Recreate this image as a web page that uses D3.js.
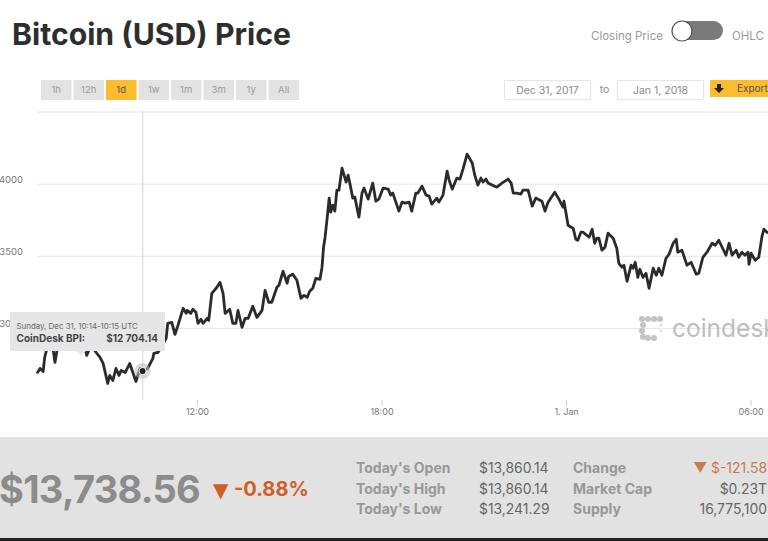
<!DOCTYPE html>
<html>
<head>
<meta charset="utf-8">
<script src="https://cdn.jsdelivr.net/npm/d3@7"></script>
<style>
  body { margin: 0; background: #fff; overflow: hidden; }
  svg { display: block; font-family: Inter, Lato, sans-serif; }
  .domain { display: none; }
</style>
</head>
<body>
<div id="chart"></div>
<script>
const width = 768,
  height = 541;

// minutes since Dec 31 00:00 UTC
const minutes = [408, 414, 420, 423, 429, 439, 443, 447, 457, 468, 480, 492, 501, 505, 513, 525, 531, 537, 546, 550, 556, 562, 568, 572, 580, 589, 601, 609, 614, 624, 634, 636, 644,
  660, 663, 671, 677, 683, 693, 699, 701, 708, 712, 718, 722, 728, 732, 740, 743, 749, 759, 765, 771, 775, 784, 790, 796, 800, 808, 814, 820, 829, 837, 847, 853, 860, 866, 876, 880, 888, 896, 899, 907, 915, 923, 929, 935, 940, 946, 952, 960, 964, 967, 970, 974, 978, 981, 985, 989, 993, 997, 1003, 1011, 1015, 1019, 1024, 1028, 1036, 1042, 1046, 1054, 1063, 1069, 1075, 1083, 1093, 1098, 1102, 1114, 1120, 1126, 1134, 1139, 1147, 1151, 1159, 1167, 1173, 1178, 1188, 1192, 1200, 1208, 1212, 1218, 1227, 1233, 1239, 1247, 1257, 1262, 1268, 1274, 1278, 1284, 1288, 1305, 1315, 1327, 1333, 1337, 1344, 1352, 1356, 1366, 1374, 1381, 1393, 1399, 1405, 1418, 1426, 1434, 1436, 1444, 1450, 1454, 1459, 1463, 1469, 1473, 1485, 1491, 1496, 1500, 1504, 1510, 1516, 1522, 1532, 1539, 1543, 1549, 1553, 1559, 1567, 1571, 1575, 1580, 1584, 1590, 1596, 1602, 1610, 1616, 1621, 1627, 1635, 1641, 1649, 1655, 1658, 1666, 1676, 1684, 1694, 1699, 1707, 1715, 1725, 1731, 1738, 1752, 1758, 1764, 1772, 1777, 1783, 1789, 1795, 1797, 1801, 1809, 1816, 1822, 1826, 1834];
const prices = [12688, 12722, 12701, 12799, 12882, 12868, 12764, 12847, 12917, 12951, 12931, 12903, 12875, 12813, 12882, 12826, 12799, 12757, 12618, 12674, 12639, 12722, 12674, 12708, 12694, 12757, 12632, 12722, 12704, 12722, 12792, 12826, 12833,
  12931, 13035, 13042, 12958, 13021, 13139, 13104, 13125, 13104, 13132, 13111, 13035, 13063, 13035, 13070, 13056, 13243, 13285, 13319, 13243, 13104, 13132, 13035, 13035, 13125, 13007, 13070, 13070, 13153, 13076, 13125, 13264, 13181, 13181, 13285, 13299, 13396, 13313, 13361, 13375, 13333, 13208, 13229, 13215, 13257, 13278, 13347, 13340, 13424, 13563, 13632, 13764, 13903, 13806, 13854, 13813, 13958, 13958, 14111, 14014, 14062, 13993, 13903, 13910, 13771, 13938, 13972, 13896, 14007, 13882, 13896, 13972, 13965, 13924, 13938, 13813, 13875, 13868, 13875, 13813, 13938, 13938, 13986, 13924, 13917, 13861, 13903, 13875, 13924, 14090, 14028, 13965, 14042, 14035, 14104, 14208, 14146, 14062, 13993, 14042, 14014, 14035, 14007, 13979, 14007, 14035, 14007, 13938, 13938, 13931, 13958, 13958, 13847, 13903, 13882, 13813, 13875, 13944, 13896, 13840, 13882, 13715, 13701, 13694, 13618, 13611, 13667, 13667, 13632, 13688, 13590, 13625, 13625, 13542, 13563, 13660, 13625, 13556, 13451, 13424, 13438, 13326, 13438, 13417, 13458, 13354, 13410, 13354, 13382, 13278, 13417, 13368, 13417, 13368, 13486, 13514, 13590, 13618, 13528, 13542, 13438, 13458, 13375, 13382, 13493, 13528, 13590, 13576, 13611, 13507, 13590, 13507, 13542, 13493, 13528, 13507, 13528, 13444, 13521, 13472, 13493, 13632, 13688, 13660];

const gridValues = [13000, 13500, 14000, 14500];
const yTickValues = [13000, 13500, 14000];
const xTickMinutes = [720, 1080, 1440, 1800];
const xTickLabels = ["12:00", "18:00", "1. Jan", "06:00"];
const rangeButtons = ["1h", "12h", "1d", "1w", "1m", "3m", "1y", "All"];
const activeRange = "1d";
const hoverMinute = 614;
const hoverPrice = 12704.14;

const statLabelsA = ["Today's Open", "Today's High", "Today's Low"];
const statValuesA = ["$13,860.14", "$13,860.14", "$13,241.29"];
const statLabelsB = ["Change", "Market Cap", "Supply"];
const statValuesB = ["▼ $-121.58", "$0.23T", "16,775,100"];

const toDate = m => new Date(Date.UTC(2017, 11, 31, 0, m));

const svg = d3.select("#chart").append("svg").attr("width", width).attr("height", height);

const x = d3.scaleUtc().domain([toDate(408), toDate(1834)]).range([37, 768]);
const y = d3.scaleLinear().domain([12500, 14500]).range([400.5, 112]);

// header
svg.append("text").attr("x", 12).attr("y", 45).attr("font-size", 30.2).attr("font-weight", 700).attr("fill", "#2e2e2e").text("Bitcoin (USD) Price");

svg.append("text").attr("x", 591).attr("y", 40).attr("font-size", 11.5).attr("fill", "#9a9a9a").text("Closing Price");
svg.append("rect").attr("x", 672).attr("y", 21).attr("width", 51).attr("height", 19).attr("rx", 9.5).attr("fill", "#7a7a7a");
svg.append("circle").attr("cx", 682).attr("cy", 31).attr("r", 10).attr("fill", "#fff").attr("stroke", "#555").attr("stroke-width", 1.2);
svg.append("text").attr("x", 732).attr("y", 40).attr("font-size", 11.5).attr("fill", "#9a9a9a").text("OHLC");

// range buttons
const btn = svg.append("g").selectAll("g").data(rangeButtons).join("g")
  .attr("transform", (d, i) => `translate(${41 + i * 32.5},80)`);
btn.append("rect").attr("width", 30.5).attr("height", 20).attr("fill", d => d === activeRange ? "#fbbc2d" : "#e3e3e3");
btn.append("text").attr("x", 15.2).attr("y", 13).attr("text-anchor", "middle").attr("font-size", 9.5)
  .attr("fill", d => d === activeRange ? "#555" : "#999").text(d => d);

// date inputs and export
const dateBoxes = svg.append("g").selectAll("g").data(["Dec 31, 2017", "Jan 1, 2018"]).join("g")
  .attr("transform", (d, i) => `translate(${504.5 + i * 113},80.5)`);
dateBoxes.append("rect").attr("width", 86).attr("height", 19).attr("fill", "#fff").attr("stroke", "#e6e6e6");
dateBoxes.append("text").attr("x", 43).attr("y", 13).attr("text-anchor", "middle").attr("font-size", 10.5).attr("fill", "#8a8a8a").text(d => d);
svg.append("text").attr("x", 604.5).attr("y", 93).attr("text-anchor", "middle").attr("font-size", 10.5).attr("fill", "#8a8a8a").text("to");
svg.append("rect").attr("x", 710).attr("y", 80).attr("width", 58).attr("height", 17).attr("fill", "#fbbc2d");
svg.append("path").attr("d", "M717 84h4v4h3l-5 5l-5-5h3z").attr("fill", "#222");
svg.append("text").attr("x", 737).attr("y", 92).attr("font-size", 10).attr("fill", "#555").text("Export");

// grid and axes
svg.append("g").selectAll("line").data(gridValues).join("line")
  .attr("x1", 38).attr("x2", width).attr("y1", d => y(d)).attr("y2", d => y(d))
  .attr("stroke", "#e4e4e4").attr("stroke-width", 1);

const yAxis = svg.append("g").attr("transform", "translate(23,-5)")
  .call(d3.axisLeft(y).tickValues(yTickValues).tickSize(0).tickPadding(0).tickFormat(d3.format("d")));
yAxis.selectAll("text").attr("font-size", 9.5).attr("font-family", "Inter").attr("fill", "#777");

const xAxis = svg.append("g").attr("transform", "translate(0,400)")
  .call(d3.axisBottom(x).tickValues(xTickMinutes.map(toDate)).tickSize(6).tickPadding(3)
    .tickFormat((d, i) => xTickLabels[i]));
xAxis.selectAll("line").attr("stroke", "#ccc");
xAxis.selectAll("text").attr("font-size", 9).attr("font-family", "Inter").attr("fill", "#777");

// crosshair
svg.append("line").attr("x1", x(toDate(hoverMinute))).attr("x2", x(toDate(hoverMinute)))
  .attr("y1", 111).attr("y2", 400).attr("stroke", "#dcdcdc").attr("stroke-width", 1.3);

// price line
const line = d3.line().x((d, i) => x(toDate(minutes[i]))).y(d => y(d));
svg.append("path").datum(prices).attr("d", line).attr("fill", "none")
  .attr("stroke", "#2b2b2b").attr("stroke-width", 2.8).attr("stroke-linejoin", "round");

// hover marker
svg.append("circle").attr("cx", x(toDate(hoverMinute))).attr("cy", y(hoverPrice)).attr("r", 8).attr("fill", "#bbb").attr("opacity", 0.55);
svg.append("circle").attr("cx", x(toDate(hoverMinute))).attr("cy", y(hoverPrice)).attr("r", 3.6).attr("fill", "#222").attr("stroke", "#fff").attr("stroke-width", 1);

// watermark
const logoDots = [[642, 319], [648, 319], [654, 319], [660, 319], [643, 325], [642, 331], [643, 337], [648, 338], [654, 338], [661, 331], [661, 325]];
svg.append("g").selectAll("circle").data(logoDots.slice(0, 9)).join("circle")
  .attr("cx", d => d[0]).attr("cy", d => d[1]).attr("r", 3).attr("fill", "#c4c4c4");
svg.append("g").selectAll("circle").data(logoDots.slice(9)).join("circle")
  .attr("cx", d => d[0]).attr("cy", d => d[1]).attr("r", 1).attr("fill", "#c4c4c4");
svg.append("text").attr("x", 672).attr("y", 337).attr("font-size", 24.5).attr("fill", "#bdbdbd").text("coindesk");

// tooltip
svg.append("path").attr("d", "M10 312H165V351H86L81 355L76 351H10Z").attr("fill", "#e6e6e6");
svg.append("text").attr("x", 16.5).attr("y", 329).attr("font-size", 7.9).attr("fill", "#666").text("Sunday, Dec 31, 10:14-10:15 UTC");
svg.append("text").attr("x", 16.5).attr("y", 341.5).attr("font-size", 10).attr("font-weight", 700).attr("fill", "#444").text("CoinDesk BPI:");
svg.append("text").attr("x", 158).attr("y", 341.5).attr("text-anchor", "end").attr("font-size", 10).attr("font-weight", 700).attr("fill", "#444").text("$12 704.14");

// stats band
svg.append("rect").attr("y", 437).attr("width", width).attr("height", 101).attr("fill", "#e2e2e2");
svg.append("rect").attr("y", 538).attr("width", width).attr("height", 3).attr("fill", "#222");

svg.append("text").attr("x", -1).attr("y", 503).attr("font-size", 38).attr("font-weight", 700).attr("fill", "#8c8c8c").attr("letter-spacing", -0.7).text("$13,738.56");
svg.append("text").attr("x", 213).attr("y", 497).attr("font-size", 20).attr("font-family", "DejaVu Sans").attr("fill", "#cf5f27").text("▼");
svg.append("text").attr("x", 234).attr("y", 496).attr("font-size", 20).attr("font-weight", 700).attr("fill", "#cf5f27").text("-0.88%");

const statY = d3.scalePoint().domain([0, 1, 2]).range([473, 514]);
const statText = (list, xPos, anchor, weight, fill, size) => svg.append("g").selectAll("text").data(list).join("text")
  .attr("x", xPos).attr("y", (d, i) => statY(i)).attr("text-anchor", anchor)
  .attr("font-size", size).attr("font-weight", weight).attr("fill", fill).text(d => d);

statText(statLabelsA, 356, "start", 700, "#989898", 14);
statText(statValuesA, 479, "start", 400, "#666", 13.9);
statText(statLabelsB, 573, "start", 700, "#989898", 14);
statText(statValuesB, 767, "end", 400, "#666", 13.9).attr("fill", (d, i) => i === 0 ? "#c77c50" : "#666");
</script>
</body>
</html>
